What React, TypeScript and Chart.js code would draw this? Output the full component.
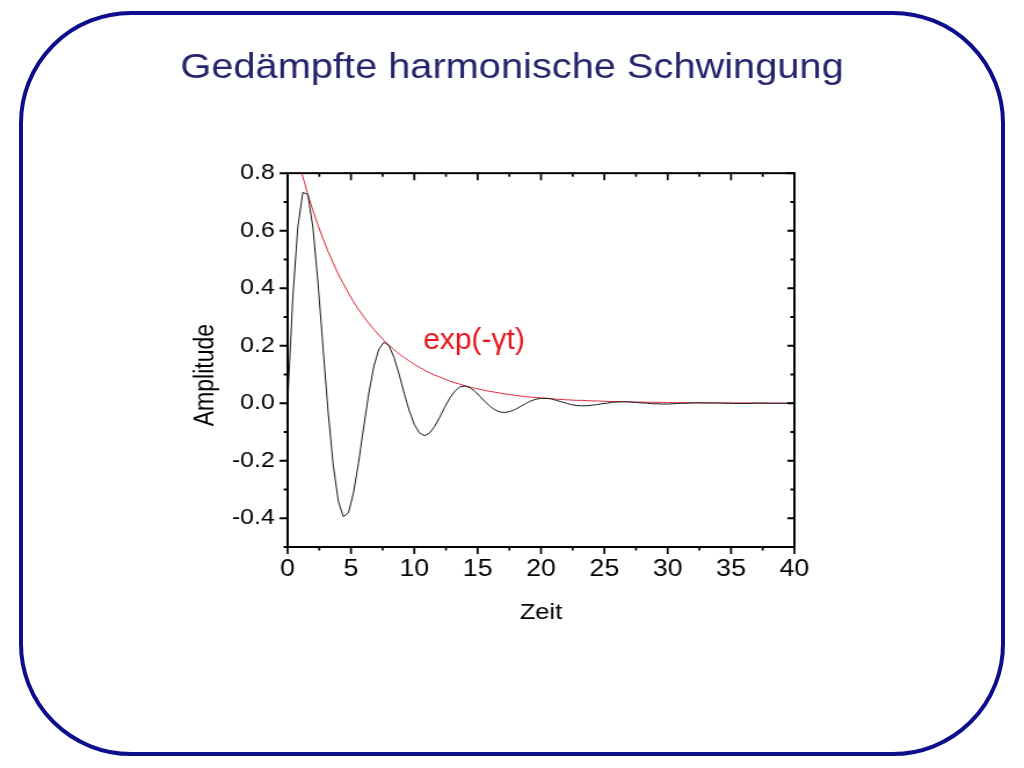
import { useEffect, useRef } from "react";
import { Chart, registerables } from "chart.js";

Chart.register(...registerables);

// ---- data ----
const titleText = "Gedämpfte harmonische Schwingung";
const xAxisTitle = "Zeit";
const yAxisTitle = "Amplitude";
const envelopeLabel = "exp(-γt)";

const timeValues = [
  0, 0.4, 0.8, 1.2, 1.6, 2, 2.4, 2.8, 3.2, 3.6,
  4, 4.4, 4.8, 5.2, 5.6, 6, 6.4, 6.8, 7.2, 7.6,
  8, 8.4, 8.8, 9.2, 9.6, 10, 10.4, 10.8, 11.2, 11.6,
  12, 12.4, 12.8, 13.2, 13.6, 14, 14.4, 14.8, 15.2, 15.6,
  16, 16.4, 16.8, 17.2, 17.6, 18, 18.4, 18.8, 19.2, 19.6,
  20, 20.4, 20.8, 21.2, 21.6, 22, 22.4, 22.8, 23.2, 23.6,
  24, 24.4, 24.8, 25.2, 25.6, 26, 26.4, 26.8, 27.2, 27.6,
  28, 28.4, 28.8, 29.2, 29.6, 30, 30.4, 30.8, 31.2, 31.6,
  32, 32.4, 32.8, 33.2, 33.6, 34, 34.4, 34.8, 35.2, 35.6,
  36, 36.4, 36.8, 37.2, 37.6, 38, 38.4, 38.8, 39.2, 39.6,
  40,
];

const amplitudeValues = [
  0, 0.36, 0.611, 0.733, 0.726, 0.61, 0.418, 0.191, -0.031, -0.215,
  -0.34, -0.395, -0.381, -0.312, -0.206, -0.084, 0.032, 0.127, 0.188, 0.212,
  0.2, 0.159, 0.101, 0.035, -0.026, -0.074, -0.103, -0.113, -0.104, -0.081,
  -0.049, -0.014, 0.018, 0.042, 0.057, 0.06, 0.054, 0.041, 0.023, 0.005,
  -0.012, -0.024, -0.031, -0.032, -0.028, -0.021, -0.011, -0.001, 0.008, 0.014,
  0.017, 0.017, 0.015, 0.01, 0.005, 0.0, -0.005, -0.008, -0.009, -0.009,
  -0.007, -0.005, -0.002, 0.0, 0.003, 0.004, 0.005, 0.005, 0.004, 0.002,
  0.001, 0.0, -0.002, -0.002, -0.003, -0.003, -0.002, -0.001, 0.0, 0.0,
  0.001, 0.001, 0.001, 0.001, 0.001, 0.001, 0.0, 0.0, -0.001, -0.001,
  -0.001, -0.001, 0.0, 0.0, 0.0, 0.0, 0.0, 0.0, 0.0, 0.0,
  0.0,
];

const envelopeValues = [
  1.0, 0.923, 0.852, 0.787, 0.726, 0.67, 0.619, 0.571, 0.527, 0.487,
  0.449, 0.415, 0.383, 0.353, 0.326, 0.301, 0.278, 0.257, 0.237, 0.219,
  0.202, 0.186, 0.172, 0.159, 0.147, 0.135, 0.125, 0.115, 0.106, 0.098,
  0.091, 0.084, 0.077, 0.071, 0.066, 0.061, 0.056, 0.052, 0.048, 0.044,
  0.041, 0.038, 0.035, 0.032, 0.03, 0.027, 0.025, 0.023, 0.021, 0.02,
  0.018, 0.017, 0.016, 0.014, 0.013, 0.012, 0.011, 0.01, 0.01, 0.009,
  0.008, 0.008, 0.007, 0.006, 0.006, 0.006, 0.005, 0.005, 0.004, 0.004,
  0.004, 0.003, 0.003, 0.003, 0.003, 0.002, 0.002, 0.002, 0.002, 0.002,
  0.002, 0.002, 0.001, 0.001, 0.001, 0.001, 0.001, 0.001, 0.001, 0.001,
  0.001, 0.001, 0.001, 0.001, 0.001, 0.0, 0.0, 0.0, 0.0, 0.0,
  0.0,
];

const xMajorTicks = [0, 5, 10, 15, 20, 25, 30, 35, 40];
const xMinorTicks = [2.5, 7.5, 12.5, 17.5, 22.5, 27.5, 32.5, 37.5];
const yMajorTicks = [-0.4, -0.2, 0.0, 0.2, 0.4, 0.6, 0.8];
const yMinorTicks = [-0.5, -0.3, -0.1, 0.1, 0.3, 0.5, 0.7];
const xRange = [0, 40];
const yRange = [-0.5, 0.8];
const labelAnchor = { t: 10.7, v: 0.19 };

// ---- layout / style ----
const CANVAS_W = 883;
const CANVAS_H = 768;
const STRETCH = 1024 / CANVAS_W;
const FONT = '"Liberation Sans", Arial, Helvetica, sans-serif';

const axesPlugin = {
  id: "originAxes",
  afterDatasetsDraw(chart: any) {
    const { ctx, chartArea: a, scales } = chart;
    const xs = scales.x;
    const ys = scales.y;
    const h = 1 / STRETCH;
    ctx.save();
    ctx.strokeStyle = "#000";
    ctx.lineCap = "butt";

    // x ticks (vertical strokes)
    ctx.lineWidth = 2 * h;
    ctx.beginPath();
    for (const v of xMajorTicks) {
      const px = xs.getPixelForValue(v);
      ctx.moveTo(px, a.bottom);
      ctx.lineTo(px, a.bottom + 7);
      ctx.moveTo(px, a.top);
      ctx.lineTo(px, a.top + 7);
    }
    for (const v of xMinorTicks) {
      const px = xs.getPixelForValue(v);
      ctx.moveTo(px, a.bottom);
      ctx.lineTo(px, a.bottom + 3.5);
      ctx.moveTo(px, a.top);
      ctx.lineTo(px, a.top + 3.5);
    }
    ctx.stroke();

    // y ticks (horizontal strokes)
    ctx.lineWidth = 2;
    ctx.beginPath();
    for (const v of yMajorTicks) {
      const py = ys.getPixelForValue(v);
      ctx.moveTo(a.left, py);
      ctx.lineTo(a.left - 8 * h, py);
      ctx.moveTo(a.right, py);
      ctx.lineTo(a.right - 7 * h, py);
    }
    for (const v of yMinorTicks) {
      const py = ys.getPixelForValue(v);
      ctx.moveTo(a.left, py);
      ctx.lineTo(a.left - 4 * h, py);
      ctx.moveTo(a.right, py);
      ctx.lineTo(a.right - 4 * h, py);
    }
    ctx.stroke();

    // frame box
    ctx.lineWidth = 2;
    ctx.strokeRect(a.left, a.top, a.right - a.left, a.bottom - a.top);

    // y axis title
    ctx.fillStyle = "#000";
    ctx.font = `23px ${FONT}`;
    ctx.textAlign = "center";
    ctx.textBaseline = "middle";
    ctx.save();
    ctx.translate(a.left - 81 * h, (a.top + a.bottom) / 2 + 15);
    ctx.rotate(-Math.PI / 2);
    ctx.fillText(yAxisTitle, 0, 0);
    ctx.restore();

    // envelope label
    ctx.save();
    ctx.translate(xs.getPixelForValue(labelAnchor.t), ys.getPixelForValue(labelAnchor.v));
    ctx.scale(h, 1);
    ctx.font = `30px ${FONT}`;
    ctx.fillStyle = "#e8151c";
    ctx.textAlign = "left";
    ctx.textBaseline = "alphabetic";
    ctx.fillText(envelopeLabel, 0, 0);
    ctx.restore();

    ctx.restore();
  },
};

export default function App() {
  const ref = useRef<HTMLCanvasElement>(null);

  useEffect(() => {
    const canvas = ref.current;
    if (!canvas) return;
    const chart = new Chart(canvas, {
      type: "line",
      data: {
        datasets: [
          {
            label: "Amplitude",
            data: timeValues.map((t, i) => ({ x: t, y: amplitudeValues[i] })),
            borderColor: "#1a1a1a",
            borderWidth: 1,
            pointRadius: 0,
            tension: 0,
            fill: false,
          },
          {
            label: envelopeLabel,
            data: timeValues.map((t, i) => ({ x: t, y: envelopeValues[i] })),
            borderColor: "#e0283a",
            borderWidth: 1,
            pointRadius: 0,
            tension: 0,
            fill: false,
          },
        ],
      },
      options: {
        responsive: false,
        animation: false,
        devicePixelRatio: 1,
        events: [],
        layout: { padding: { left: 17, right: 17, top: 0, bottom: 0 } },
        plugins: {
          legend: { display: false },
          tooltip: { enabled: false },
          title: {
            display: true,
            text: titleText,
            color: "#24246c",
            font: { family: FONT, size: 34.3, weight: "normal" },
            padding: { top: 48, bottom: 84 },
          },
        },
        scales: {
          x: {
            type: "linear",
            position: "bottom",
            min: xRange[0],
            max: xRange[1],
            grid: { display: false, drawTicks: false },
            border: { display: false },
            afterBuildTicks: (s: any) => {
              s.ticks = xMajorTicks.map((v) => ({ value: v }));
            },
            afterFit: (s: any) => {
              s.height = 221;
            },
            ticks: {
              color: "#000",
              font: { family: FONT, size: 23 },
              padding: 9,
              maxRotation: 0,
              autoSkip: false,
              callback: (v: any) => String(v),
            },
            title: {
              display: true,
              text: xAxisTitle,
              color: "#000",
              font: { family: FONT, size: 22 },
              padding: { top: 0, bottom: 142 },
            },
          },
          y: {
            type: "linear",
            position: "left",
            min: yRange[0],
            max: yRange[1],
            grid: { display: false, drawTicks: false },
            border: { display: false },
            afterBuildTicks: (s: any) => {
              s.ticks = yMajorTicks.map((v) => ({ value: v }));
            },
            afterFit: (s: any) => {
              s.width = 231;
            },
            ticks: {
              color: "#000",
              font: { family: FONT, size: 21.5 },
              padding: 11,
              autoSkip: false,
              callback: (v: any) => Number(v).toFixed(1),
            },
          },
          y2: {
            type: "linear",
            position: "right",
            min: yRange[0],
            max: yRange[1],
            grid: { display: false, drawTicks: false },
            border: { display: false },
            ticks: { display: false },
            afterFit: (s: any) => {
              s.width = 181;
            },
          },
        },
      } as any,
      plugins: [axesPlugin],
    });
    return () => chart.destroy();
  }, []);

  return (
    <div
      style={{
        position: "fixed",
        left: 0,
        top: 0,
        width: 1024,
        height: 768,
        background: "#fff",
        overflow: "hidden",
      }}
    >
      <canvas
        ref={ref}
        width={CANVAS_W}
        height={CANVAS_H}
        style={{ position: "absolute", left: 0, top: 0, width: "1024px", height: "768px" }}
      />
      <div
        style={{
          position: "absolute",
          left: 19,
          top: 11,
          width: 986,
          height: 745,
          boxSizing: "border-box",
          border: "4px solid #0e0e8c",
          borderRadius: 112,
          pointerEvents: "none",
        }}
      />
    </div>
  );
}
